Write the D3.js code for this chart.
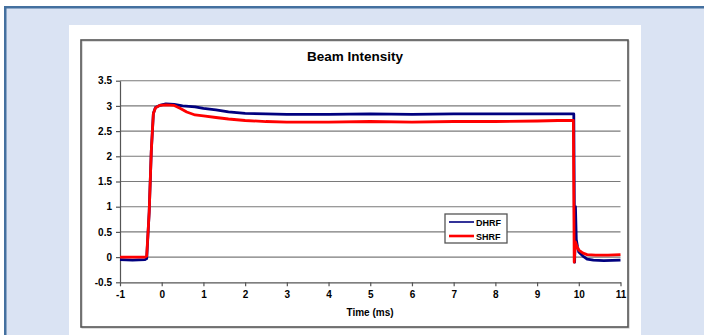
<!DOCTYPE html>
<html>
<head>
<meta charset="UTF-8">
<title>Beam Intensity</title>
<script src="https://d3js.org/d3.v7.min.js"></script>
<style>
body { margin: 0; background: #fff; }
text { font-family: Arial, "Liberation Sans", sans-serif; font-weight: bold; fill: #000; }
</style>
</head>
<body>
<svg id="chart" width="704" height="335"></svg>
<script>
// time (ms) and intensity
var dhrfT = [-1, -0.7, -0.4, -0.36, -0.3, -0.25, -0.2, -0.15, -0.05, 0.1, 0.3, 0.5, 0.8, 1.0, 1.3, 1.6, 2.0, 2.5, 3, 4, 5, 6, 7, 8, 9, 9.5, 9.88, 9.9, 9.92, 9.94, 9.97, 10.0, 10.1, 10.2, 10.35, 10.6, 11];
var dhrfV = [-0.05, -0.06, -0.05, -0.03, 0.9, 2.1, 2.85, 2.97, 3.01, 3.04, 3.03, 3.0, 2.98, 2.95, 2.92, 2.88, 2.85, 2.84, 2.83, 2.83, 2.84, 2.83, 2.84, 2.84, 2.84, 2.84, 2.84, -0.1, 1.0, 0.35, 0.2, 0.1, 0.02, -0.04, -0.06, -0.07, -0.06];
var shrfT = [-1, -0.7, -0.4, -0.36, -0.3, -0.25, -0.2, -0.15, -0.05, 0.1, 0.3, 0.45, 0.6, 0.8, 1.0, 1.3, 1.6, 2.0, 2.5, 3, 4, 5, 6, 7, 8, 9, 9.5, 9.87, 9.89, 9.92, 9.96, 10.0, 10.1, 10.2, 10.4, 10.7, 11];
var shrfV = [0.0, 0.0, 0.0, 0.02, 0.9, 2.1, 2.85, 2.96, 3.01, 3.02, 3.01, 2.95, 2.88, 2.82, 2.8, 2.77, 2.74, 2.71, 2.69, 2.68, 2.68, 2.69, 2.68, 2.69, 2.69, 2.7, 2.71, 2.71, -0.1, 0.3, 0.2, 0.14, 0.08, 0.05, 0.04, 0.04, 0.05];
var yTicks = [-0.5, 0, 0.5, 1, 1.5, 2, 2.5, 3, 3.5];
var xTicks = [-1, 0, 1, 2, 3, 4, 5, 6, 7, 8, 9, 10, 11];
var seriesNames = ["DHRF", "SHRF"];
var seriesColors = ["#00007f", "#ff0000"];

var svg = d3.select("#chart");

// page background with blue frame
svg.append("rect").attr("x", 0).attr("y", 0).attr("width", 704).attr("height", 335).attr("fill", "#ffffff");
svg.append("rect").attr("x", 4).attr("y", 6).attr("width", 700).attr("height", 329).attr("fill", "#dae3f3");
svg.append("rect").attr("x", 4).attr("y", 6).attr("width", 700).attr("height", 2.5).attr("fill", "#44709f");
svg.append("rect").attr("x", 4).attr("y", 6).attr("width", 2.5).attr("height", 329).attr("fill", "#44709f");

// white panel and chart frame
svg.append("rect").attr("x", 69).attr("y", 25).attr("width", 572).attr("height", 310).attr("fill", "#ffffff");
svg.append("rect").attr("x", 82).attr("y", 41).attr("width", 547).attr("height", 287).attr("fill", "none").attr("stroke", "#bbbbbb").attr("stroke-width", 1);
svg.append("rect").attr("x", 81).attr("y", 40).attr("width", 547).attr("height", 287).attr("fill", "none").attr("stroke", "#555555").attr("stroke-width", 1.6);

var x = d3.scaleLinear().domain([-1, 11]).range([120, 620.5]);
var y = d3.scaleLinear().domain([-0.5, 3.5]).range([282.3, 80.7]);

// title
svg.append("text").attr("x", 355).attr("y", 61).attr("text-anchor", "middle").style("font-size", "13.5px").text("Beam Intensity");

// gridlines
svg.append("g").selectAll("line").data(yTicks.filter(function(d) { return d > -0.5; })).enter().append("line")
	.attr("x1", x(-1)).attr("x2", x(11))
	.attr("y1", function(d) { return y(d); }).attr("y2", function(d) { return y(d); })
	.attr("stroke", "#7a7a7a").attr("stroke-width", 1.1);

// axes, plain hyphen for negatives
var fmt = function(d) { return String(d); };
var yAxis = svg.append("g").attr("transform", "translate(" + x(-1) + ",0)")
	.call(d3.axisLeft(y).tickValues(yTicks).tickSize(4).tickSizeOuter(0).tickPadding(4).tickFormat(fmt));
var xAxis = svg.append("g").attr("transform", "translate(0," + y(-0.5) + ")")
	.call(d3.axisBottom(x).tickValues(xTicks).tickSize(4).tickSizeOuter(0).tickPadding(5).tickFormat(fmt));
[yAxis, xAxis].forEach(function(a) {
	a.selectAll("path, line").attr("stroke", "#555555").attr("stroke-width", 1.2);
	a.selectAll("text").style("font-size", "10px").style("font-family", "Arial, 'Liberation Sans', sans-serif").style("font-weight", "bold").attr("fill", "#222");
});

svg.append("text").attr("x", 370).attr("y", 316).attr("text-anchor", "middle").style("font-size", "10px").text("Time (ms)");

// series
var line = d3.line().x(function(d) { return x(d[0]); }).y(function(d) { return y(d[1]); });
var dhrf = d3.zip(dhrfT, dhrfV);
var shrf = d3.zip(shrfT, shrfV);
svg.append("path").datum(dhrf).attr("d", line).attr("fill", "none").attr("stroke", seriesColors[0]).attr("stroke-width", 2.8).attr("stroke-linejoin", "round");
svg.append("path").datum(shrf).attr("d", line).attr("fill", "none").attr("stroke", seriesColors[1]).attr("stroke-width", 2.8).attr("stroke-linejoin", "round");

// legend
var leg = svg.append("g").attr("transform", "translate(445,214)");
leg.append("rect").attr("width", 62).attr("height", 29).attr("fill", "#fff").attr("stroke", "#555").attr("stroke-width", 1.3);
seriesNames.forEach(function(n, i) {
	leg.append("line").attr("x1", 4).attr("x2", 29).attr("y1", 8 + i * 14).attr("y2", 8 + i * 14)
		.attr("stroke", seriesColors[i]).attr("stroke-width", i == 0 ? 1.6 : 2.6);
	leg.append("text").attr("x", 31).attr("y", 11.5 + i * 14).style("font-size", "9px").text(n);
});
</script>
</body>
</html>
